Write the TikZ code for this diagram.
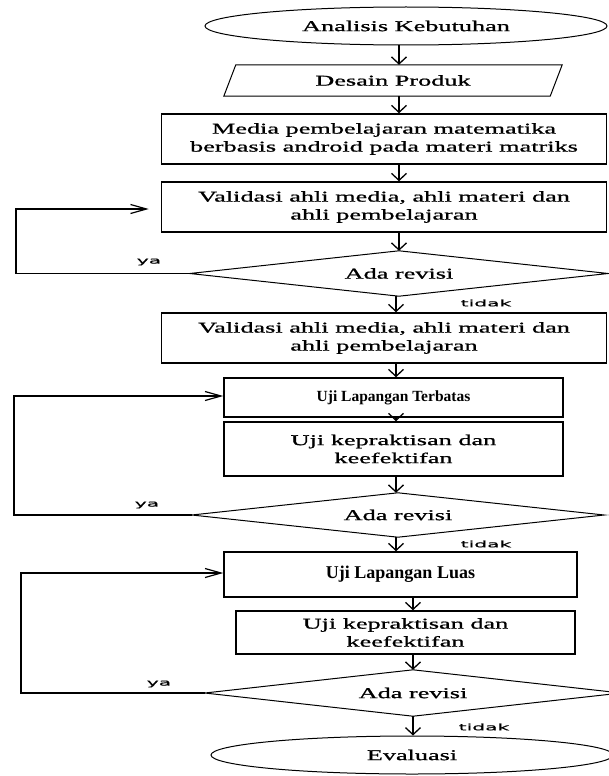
\documentclass[tikz,border=0pt]{standalone}
\usepackage{fontspec}
\setmainfont{Liberation Serif}
\newfontfamily\wideserif[FakeStretch=1.75,FakeBold=1]{Liberation Serif}
\newfontfamily\widesans[FakeStretch=2.25,FakeBold=0.6]{DejaVu Sans}
\usetikzlibrary{shapes.geometric,arrows.meta}

\begin{document}
\begin{tikzpicture}[x=1pt,y=-1pt,
  txt/.style={font=\wideserif\fontsize{15}{18}\selectfont, align=center, inner sep=0pt},
  boxn/.style={txt, draw, line width=1.5pt},
  boldbox/.style={draw, line width=1.5pt, inner sep=0pt, align=center},
  ell/.style={txt, draw, ellipse, line width=1pt},
  thinline/.style={line width=1pt},
  lbl/.style={font=\widesans\fontsize{9}{10}\selectfont, inner sep=0pt},
  varr/.style={line width=1.3pt, -{Straight Barb[length=7pt,width=15pt,line width=1.3pt]}},
  harr/.style={line width=1.4pt, -{Straight Barb[length=16pt,width=9pt,line width=1.2pt]}}
]
\useasboundingbox (0,0) rectangle (608,776);

% nodes
\node[ell, minimum width=402pt, minimum height=38pt] (ana) at (406,26) {Analisis Kebutuhan};
\node[txt, minimum width=326pt, minimum height=31pt] (desain) at (393,80.5) {Desain Produk};
\draw[thinline] ([xshift=6pt]desain.north west) -- ([xshift=6pt]desain.north east)
  -- ([xshift=-6pt]desain.south east) -- ([xshift=-6pt]desain.south west) -- cycle;
\node[boxn, minimum width=445pt, minimum height=50pt] (media) at (384,139)
  {Media pembelajaran matematika\\berbasis android pada materi matriks};
\node[boxn, minimum width=445pt, minimum height=50pt] (val1) at (384,207)
  {Validasi ahli media, ahli materi dan\\ahli pembelajaran};
\node[txt, minimum width=418pt, minimum height=45pt] (d1) at (399,273.5) {Ada revisi};
\draw[thinline] (d1.west) -- (d1.north) -- (d1.east) -- (d1.south) -- cycle;
\node[boxn, minimum width=445pt, minimum height=50pt] (val2) at (384,338)
  {Validasi ahli media, ahli materi dan\\ahli pembelajaran};
\node[boldbox, minimum width=339pt, minimum height=39pt, font=\bfseries\fontsize{15.5}{18}\selectfont] (terb) at (393.5,397.5) {Uji Lapangan Terbatas};
\node[boxn, minimum width=339pt, minimum height=54pt] (kep1) at (393.5,449)
  {Uji kepraktisan dan\\keefektifan};
\node[txt, minimum width=412pt, minimum height=44pt] (d2) at (398,515) {Ada revisi};
\draw[thinline] (d2.west) -- (d2.north) -- (d2.east) -- (d2.south) -- cycle;
\node[boldbox, minimum width=353pt, minimum height=45pt, font=\bfseries\fontsize{18}{20}\selectfont] (luas) at (400.5,574.5) {Uji Lapangan Luas};
\node[boxn, minimum width=339pt, minimum height=43pt] (kep2) at (405.5,632.5)
  {Uji kepraktisan dan\\keefektifan};
\node[txt, minimum width=416pt, minimum height=46pt] (d3) at (413,693) {Ada revisi};
\draw[thinline] (d3.west) -- (d3.north) -- (d3.east) -- (d3.south) -- cycle;
\node[ell, minimum width=402pt, minimum height=38pt] (eval) at (412,755) {Evaluasi};

% axis coordinates for the vertical arrows
\coordinate (ax1) at (399,0);
\coordinate (ax2) at (396,0);
\coordinate (ax3) at (413,0);

\draw[varr] (ana.south -| ax1) -- (desain.north -| ax1);
\draw[varr] (desain.south -| ax1) -- (media.north -| ax1);
\draw[varr] (media.south -| ax1) -- (val1.north -| ax1);
\draw[varr] (val1.south -| ax1) -- (d1.north -| ax1);
\draw[varr] (d1.south -| ax2) -- (val2.north -| ax2);
\draw[varr] (val2.south -| ax2) -- (terb.north -| ax2);
\draw[varr] (terb.south -| ax2) -- (kep1.north -| ax2);
\draw[varr] (kep1.south -| ax2) -- (d2.north -| ax2);
\draw[varr] (d2.south -| ax2) -- (luas.north -| ax2);
\draw[varr] (luas.south -| ax3) -- (kep2.north -| ax3);
\draw[varr] (kep2.south -| ax3) -- (d3.north -| ax3);
\draw[varr] (d3.south -| ax3) -- (eval.north -| ax3);

% feedback loops
\coordinate (l1) at (16,209);
\coordinate (l2) at (14,396);
\coordinate (l3) at (21,573);
\draw[harr, shorten >=12pt] (d1.west) -| (l1) -- (l1 -| val1.west);
\draw[harr] (d2.west) -| (l2) -- (l2 -| terb.west);
\draw[harr] (d3.west) -| (l3) -- (l3 -| luas.west);

% labels
\node[lbl] (ya1) at (149,262) {ya};
\node[lbl] (ya2) at (147,505) {ya};
\node[lbl] (ya3) at (159,684) {ya};
\node[lbl] (td1) at (486,303) {tidak};
\node[lbl] (td2) at (486,544) {tidak};
\node[lbl] (td3) at (484,727) {tidak};
\end{tikzpicture}
\end{document}
